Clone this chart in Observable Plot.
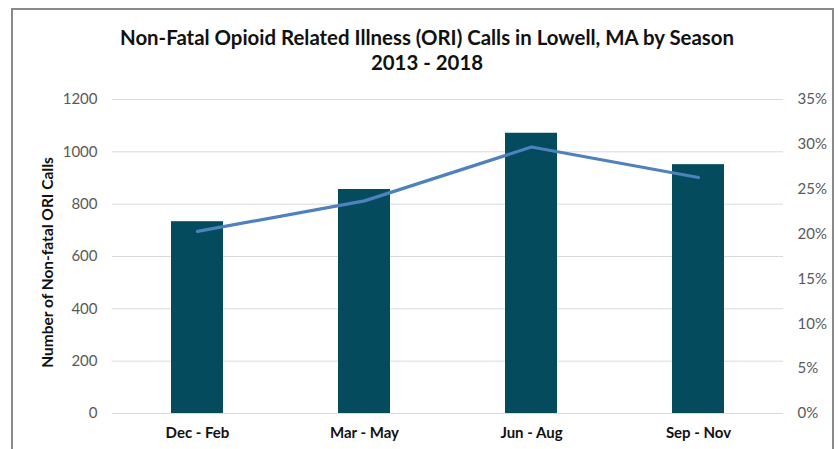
<!DOCTYPE html>
<html>
<head>
<meta charset="utf-8">
<script src="https://cdn.jsdelivr.net/npm/d3@7"></script>
<script src="https://cdn.jsdelivr.net/npm/@observablehq/plot@0.6"></script>
<style>
  html, body { margin: 0; padding: 0; background: #fff; }
  #wrap { position: relative; width: 840px; height: 449px; overflow: hidden; }
  #border { position: absolute; left: 11px; top: 8px; width: 823px; height: 470px; border: 2px solid #8a8a8a; box-sizing: border-box; }
  #chart { position: absolute; left: 0; top: 0; }
</style>
</head>
<body>
<div id="wrap"><div id="border"></div><div id="chart"></div></div>
<script>
const titleLines = ["Non-Fatal Opioid Related Illness (ORI) Calls in Lowell, MA by Season", "2013 - 2018"];
const yLabel = "Number of Non-fatal ORI Calls";
const seasons = ["Dec - Feb", "Mar - May", "Jun - Aug", "Sep - Nov"];
const calls = [733, 856, 1071, 951];
const share = [0.203, 0.237, 0.297, 0.263];
const countTicks = [0, 200, 400, 600, 800, 1000, 1200];
const pctTicks = [0, 0.05, 0.10, 0.15, 0.20, 0.25, 0.30, 0.35];

const yMax = 1200, pMax = 0.35;
const toY = p => p * yMax / pMax;

const rows = seasons.map((s, i) => ({season: s, calls: calls[i], share: share[i]}));
const font = "Lato, 'Open Sans', sans-serif";

const plot = Plot.plot({
  width: 840,
  height: 449,
  marginTop: 99,
  marginBottom: 36,
  marginLeft: 112,
  marginRight: 57,
  style: {fontFamily: font, fontSize: "15px", background: "transparent", overflow: "visible"},
  x: {type: "band", domain: seasons, paddingInner: 0.687, paddingOuter: 0.3435},
  y: {domain: [0, yMax]},
  marks: [
    Plot.gridY(countTicks, {stroke: "#d9d9d9", strokeOpacity: 1, strokeWidth: 1}),
    Plot.barY(rows, {x: "season", y: "calls", fill: "#054b5e"}),
    Plot.line(rows, {x: "season", y: d => toY(d.share), stroke: "#4f81bd", strokeWidth: 3.2, strokeLinecap: "round"}),
    Plot.axisY(countTicks, {anchor: "left", tickSize: 0, tickPadding: 15, label: null, fill: "#595959", fontSize: 15, tickFormat: d => String(d)}),
    Plot.axisY(pctTicks.map(toY), {anchor: "right", tickSize: 0, tickPadding: 14, label: null, fill: "#595959", fontSize: 15, textAnchor: "start",
      tickFormat: d => Math.round(d * pMax / yMax * 100) + "%"}),
    Plot.axisX({tickSize: 0, tickPadding: 14, label: null, fill: "#111", fontWeight: "bold", fontSize: 15}),
    Plot.text([yLabel], {frameAnchor: "left", textAnchor: "middle", rotate: -90, dx: -64, dy: 6, fontWeight: "bold", fontSize: 15.5, fill: "#111"}),
    Plot.text([titleLines[0]], {frameAnchor: "top", lineAnchor: "middle", dx: -21, dy: -61, fontWeight: "bold", fontSize: 20.4, fill: "#111"}),
    Plot.text([titleLines[1]], {frameAnchor: "top", lineAnchor: "middle", dx: -21, dy: -36.5, fontWeight: "bold", fontSize: 20.4, fill: "#111"})
  ]
});
document.getElementById("chart").appendChild(plot);
</script>
</body>
</html>
